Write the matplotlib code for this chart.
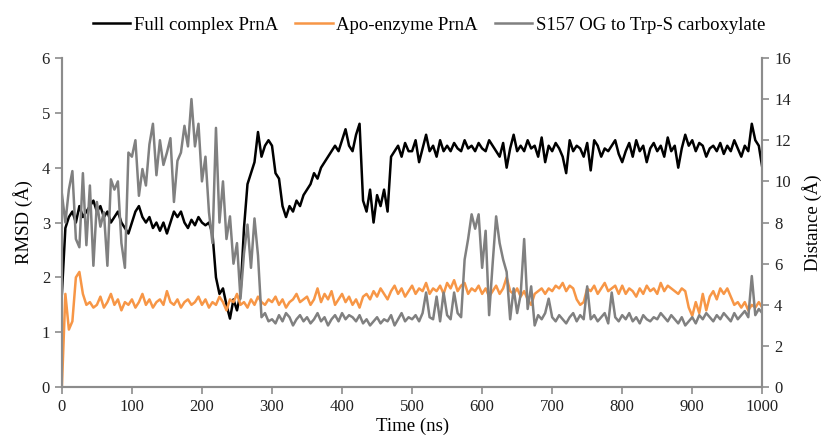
import numpy as np
import matplotlib
matplotlib.use("Agg")
import matplotlib.pyplot as plt

plt.rcParams['font.family'] = ['Liberation Serif', 'DejaVu Serif']

# sampled every 5 ns, one row = 50 ns
full_complex = [
    1.7, 2.9, 3.1, 3.2, 3.0, 3.3, 3.1, 3.2, 3.3, 3.4,
    3.2, 3.3, 3.1, 3.2, 3.0, 3.1, 3.2, 3.0, 2.9, 2.8,
    3.0, 3.2, 3.3, 3.1, 3.0, 3.1, 2.9, 3.0, 2.85, 3.0,
    2.8, 3.0, 3.2, 3.1, 3.2, 3.0, 2.9, 3.05, 2.95, 3.1,
    3.0, 2.95, 3.0, 2.8, 2.0, 1.7, 1.8, 1.5, 1.25, 1.6,
    1.4, 1.7, 2.9, 3.7, 3.9, 4.1, 4.65, 4.2, 4.4, 4.5,
    4.4, 3.9, 3.8, 3.3, 3.1, 3.3, 3.2, 3.4, 3.3, 3.5,
    3.6, 3.7, 3.9, 3.8, 4.0, 4.1, 4.2, 4.3, 4.4, 4.3,
    4.5, 4.7, 4.4, 4.3, 4.6, 4.8, 3.4, 3.2, 3.6, 3.0,
    3.5, 3.3, 3.6, 3.2, 4.2, 4.3, 4.4, 4.2, 4.45, 4.3,
    4.3, 4.5, 4.1, 4.35, 4.6, 4.3, 4.4, 4.2, 4.5, 4.3,
    4.4, 4.3, 4.45, 4.35, 4.3, 4.5, 4.35, 4.4, 4.3, 4.45,
    4.35, 4.3, 4.5, 4.4, 4.3, 4.2, 4.45, 4.0, 4.35, 4.6,
    4.3, 4.4, 4.3, 4.5, 4.35, 4.4, 4.2, 4.55, 4.1, 4.4,
    4.3, 4.45, 4.35, 4.2, 3.9, 4.5, 4.3, 4.4, 4.35, 4.2,
    4.45, 3.95, 4.5, 4.4, 4.2, 4.35, 4.3, 4.4, 4.5, 4.25,
    4.1, 4.3, 4.45, 4.2, 4.5, 4.3, 4.4, 4.1, 4.35, 4.45,
    4.3, 4.4, 4.2, 4.55, 4.3, 4.4, 4.0, 4.35, 4.6, 4.4,
    4.5, 4.3, 4.45, 4.4, 4.2, 4.35, 4.4, 4.3, 4.45, 4.25,
    4.4, 4.3, 4.5, 4.35, 4.2, 4.4, 4.3, 4.8, 4.5, 4.4,
    4.0,
]

apo_enzyme = [
    0.0, 1.7, 1.05, 1.2, 2.0, 2.1, 1.7, 1.5, 1.55, 1.45,
    1.5, 1.65, 1.45, 1.55, 1.7, 1.5, 1.6, 1.4, 1.55, 1.5,
    1.6, 1.45, 1.55, 1.7, 1.5, 1.6, 1.45, 1.55, 1.6, 1.5,
    1.75, 1.55, 1.5, 1.6, 1.45, 1.55, 1.6, 1.5, 1.55, 1.65,
    1.5, 1.6, 1.45, 1.55, 1.5, 1.65, 1.55, 1.4, 1.6, 1.55,
    1.7, 1.5, 1.55, 1.45, 1.6, 1.5, 1.65, 1.55, 1.5, 1.6,
    1.55, 1.65, 1.5, 1.6, 1.45, 1.55, 1.6, 1.7, 1.55, 1.6,
    1.65, 1.5, 1.6, 1.8, 1.55, 1.7, 1.6, 1.75, 1.5, 1.6,
    1.7, 1.55, 1.65, 1.5, 1.6, 1.45, 1.65, 1.7, 1.6, 1.75,
    1.65, 1.8, 1.7, 1.6, 1.75, 1.85, 1.7, 1.8, 1.65, 1.75,
    1.85, 1.7, 1.8, 1.75, 1.9, 1.7, 1.8, 1.75, 1.85, 1.7,
    1.9, 1.8, 1.95, 1.75, 1.85, 1.9, 1.7, 1.8, 1.75, 1.85,
    1.7, 1.8, 1.65, 1.75, 1.85, 1.7, 1.8, 2.0, 1.75, 1.7,
    1.8, 1.65, 1.75, 1.6, 1.5, 1.7, 1.75, 1.8, 1.7, 1.8,
    1.75, 1.85, 1.8, 1.9, 1.75, 1.85, 1.8, 1.6, 1.5, 1.55,
    1.8, 1.75, 1.85, 1.7, 1.8, 1.9, 1.75, 1.8, 1.85, 1.7,
    1.85, 1.7, 1.8, 1.75, 1.65, 1.8, 1.7, 1.85, 1.75, 1.8,
    1.7, 1.9, 1.75, 1.85, 1.8, 1.75, 1.7, 1.8, 1.75, 1.45,
    1.3, 1.55, 1.35, 1.7, 1.4, 1.65, 1.75, 1.6, 1.8, 1.7,
    1.8, 1.65, 1.5, 1.55, 1.45, 1.55, 1.4, 1.5, 1.45, 1.55,
    1.45,
]

# distance on right axis
s157_distance = [
    9.4, 8.0, 9.6, 10.5, 7.2, 6.8, 10.4, 6.9, 9.8, 5.9,
    9.0, 7.8, 8.5, 5.9, 10.1, 9.6, 10.0, 7.0, 5.8, 11.4,
    11.2, 12.0, 9.3, 10.6, 9.8, 11.8, 12.8, 10.3, 12.0, 10.8,
    11.4, 12.1, 9.0, 11.0, 11.4, 12.7, 11.7, 14.0, 11.7, 12.8,
    10.0, 11.2, 8.5, 7.0, 12.6, 8.0, 10.0, 7.2, 8.3, 6.0,
    7.0, 4.3, 6.5, 7.9, 5.8, 8.2, 6.4, 3.4, 3.6, 3.2,
    3.3, 3.1, 3.5, 3.2, 3.6, 3.4, 3.0, 3.3, 3.5, 3.2,
    3.4, 3.1, 3.3, 3.6, 3.2, 3.4, 3.0, 3.3, 3.5, 3.2,
    3.6, 3.3, 3.5, 3.4, 3.2, 3.5, 3.1, 3.3, 3.0, 3.2,
    3.4, 3.1, 3.3, 3.2, 3.5, 3.0, 3.3, 3.6, 3.2, 3.4,
    3.3, 3.5, 3.2, 3.6, 4.6, 3.4, 3.3, 4.4, 3.2, 4.6,
    3.5, 3.3, 4.6, 3.6, 3.4, 6.2, 7.2, 8.4, 7.7, 8.4,
    5.8, 7.6, 3.5, 6.0, 8.3, 7.0, 6.2, 5.6, 3.3, 4.8,
    3.6, 4.5, 7.2, 3.8, 4.9, 3.0, 3.5, 3.3, 3.6, 4.3,
    3.4, 3.2, 3.5, 3.3, 3.1, 3.4, 3.6, 3.2, 3.5, 3.3,
    4.9, 3.3, 3.5, 3.2, 3.4, 3.6, 3.1, 4.6, 3.4, 3.2,
    3.5, 3.3, 3.6, 3.2, 3.4, 3.1, 3.5, 3.3, 3.2, 3.4,
    3.3, 3.6, 3.4, 3.2, 3.5, 3.3, 3.1, 3.4, 3.0, 3.2,
    3.4, 3.1, 3.5, 3.3, 3.6, 3.4, 3.2, 3.5, 3.3, 3.6,
    3.4, 3.2, 3.6, 3.3, 3.5, 3.7, 3.4, 5.4, 3.5, 3.8,
    3.6,
]

time_ns = np.arange(len(full_complex)) * 5

axis_grey = '#8c8c8c'

fig = plt.figure(figsize=(8.25, 4.42), dpi=100)
ax = fig.add_axes([0.075, 0.124, 0.849, 0.745])
ax2 = ax.twinx()

l1, = ax.plot(time_ns, full_complex, color='black', lw=1.8, label='Full complex PrnA')
l2, = ax.plot(np.arange(len(apo_enzyme)) * 5, apo_enzyme, color='#f79646', lw=1.8,
              label='Apo-enzyme PrnA')
l3, = ax2.plot(np.arange(len(s157_distance)) * 5, s157_distance, color='#808080', lw=1.8,
               label='S157 OG to Trp-S carboxylate')

ax.set_xlim(0, 1000)
ax.set_ylim(0, 6)
ax2.set_ylim(0, 16)
ax.set_xticks(range(0, 1001, 100))
ax.set_yticks(range(0, 7))
ax2.set_yticks(range(0, 17, 2))

for a in (ax, ax2):
    a.spines['top'].set_visible(False)
    for side in ('left', 'right', 'bottom'):
        a.spines[side].set_color(axis_grey)
        a.spines[side].set_linewidth(1.5)
    a.tick_params(direction='out', length=5, width=1.2, color=axis_grey,
                  labelsize=12, labelcolor='#222222')

ax.set_xlabel('Time (ns)', fontsize=13.5, labelpad=2)
ax.set_ylabel('RMSD (Å)', fontsize=13.5, labelpad=6)
ax2.set_ylabel('Distance (Å)', fontsize=13.5, labelpad=8)

fig.legend(handles=[l1, l2, l3], loc='center', bbox_to_anchor=(0.52, 0.943), ncol=3,
           frameon=False, fontsize=13.5, handlelength=2.0, handletextpad=0.2,
           columnspacing=0.9)

fig.savefig('out.png', dpi=100)
